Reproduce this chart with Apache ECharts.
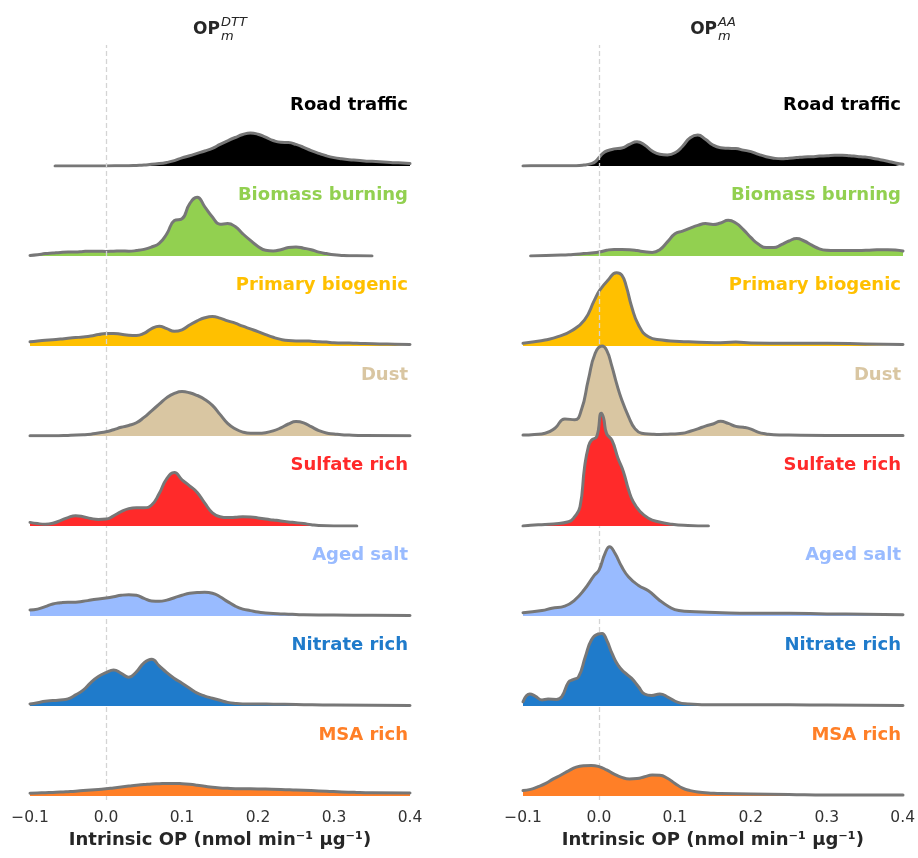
<!DOCTYPE html>
<html><head><meta charset="utf-8">
<script src="https://cdn.jsdelivr.net/npm/echarts@6/dist/echarts.min.js"></script>
<style>html,body{margin:0;padding:0;background:#fff}#c{width:918px;height:858px}</style>
</head><body><div id="c"></div>
<script>
// ---------------- DATA ----------------
const sources = ['Road traffic','Biomass burning','Primary biogenic','Dust','Sulfate rich','Aged salt','Nitrate rich','MSA rich'];
const sourceColors = ['#000000','#92d050','#ffc000','#d9c6a2','#ff2a2a','#99bbff','#1f7bcb','#ff7f27'];
const panelTitles = [{main:'OP', sup:'DTT', sub:'m'}, {main:'OP', sup:'AA', sub:'m'}];
const xTicks = [-0.1, 0.0, 0.1, 0.2, 0.3, 0.4];
const xLabel = 'Intrinsic OP (nmol min\u207b\u00b9 \u00b5g\u207b\u00b9)';

// density estimates, pairs [intrinsic OP, density]
const dttRoad = [[-0.067,0],[-0.03,0],[0.0,0.02],[0.03,0.05],[0.04,0.1],[0.05,0.15],[0.06,0.3],[0.07,0.4],[0.08,0.6],[0.09,0.9],[0.10,1.35],[0.11,1.7],[0.12,2.1],[0.13,2.5],[0.14,2.95],[0.15,3.6],[0.16,4.2],[0.17,4.75],[0.18,5.25],[0.19,5.5],[0.20,5.3],[0.21,4.8],[0.22,4.25],[0.23,3.95],[0.24,3.9],[0.25,3.6],[0.26,3.1],[0.27,2.55],[0.28,2.1],[0.29,1.7],[0.30,1.4],[0.31,1.2],[0.32,1.05],[0.33,0.95],[0.34,0.85],[0.35,0.78],[0.36,0.7],[0.37,0.63],[0.38,0.55],[0.39,0.5],[0.40,0.4]];
const dttBiomass = [[-0.1,0.1],[-0.09,0.2],[-0.08,0.4],[-0.07,0.5],[-0.06,0.6],[-0.05,0.65],[-0.04,0.65],[-0.03,0.75],[-0.02,0.8],[-0.01,0.8],[0,0.75],[0.01,0.8],[0.02,0.85],[0.03,0.8],[0.04,0.9],[0.05,1.1],[0.06,1.5],[0.07,2.1],[0.08,3.7],[0.09,5.9],[0.10,6.2],[0.11,8.7],[0.12,9.8],[0.13,8.2],[0.14,6.5],[0.15,5.3],[0.16,5.4],[0.17,4.9],[0.18,3.7],[0.19,2.6],[0.20,1.6],[0.21,0.95],[0.22,0.85],[0.23,1.05],[0.24,1.4],[0.25,1.5],[0.26,1.3],[0.27,1.05],[0.28,0.65],[0.29,0.4],[0.30,0.2],[0.31,0.1],[0.32,0.05],[0.33,0.05],[0.35,0]];
const dttPrimary = [[-0.1,0.7],[-0.09,0.85],[-0.08,0.95],[-0.07,1.05],[-0.06,1.15],[-0.05,1.3],[-0.04,1.4],[-0.03,1.5],[-0.02,1.65],[-0.01,1.9],[0,2.1],[0.01,2.1],[0.02,1.95],[0.03,1.8],[0.04,1.75],[0.05,2.1],[0.06,2.9],[0.07,3.3],[0.08,2.9],[0.09,2.45],[0.10,2.7],[0.11,3.5],[0.12,4.2],[0.13,4.7],[0.14,4.9],[0.15,4.65],[0.16,4.2],[0.17,3.8],[0.18,3.3],[0.19,2.85],[0.20,2.4],[0.21,1.9],[0.22,1.45],[0.23,1.1],[0.24,0.9],[0.25,0.85],[0.26,0.85],[0.27,0.8],[0.28,0.7],[0.29,0.65],[0.30,0.55],[0.32,0.5],[0.34,0.4],[0.36,0.35],[0.38,0.3],[0.40,0.25]];
const dttDust = [[-0.1,0.05],[-0.07,0.05],[-0.05,0.1],[-0.03,0.2],[-0.02,0.3],[-0.01,0.5],[0,0.7],[0.01,1.05],[0.02,1.45],[0.03,1.75],[0.04,2.2],[0.05,3.1],[0.06,4.2],[0.07,5.3],[0.08,6.4],[0.09,7.1],[0.10,7.4],[0.11,7.2],[0.12,6.75],[0.13,6.1],[0.14,5.1],[0.15,3.6],[0.16,2.1],[0.17,1.2],[0.18,0.65],[0.19,0.45],[0.20,0.45],[0.21,0.55],[0.22,0.85],[0.23,1.35],[0.24,2.0],[0.25,2.4],[0.26,2.2],[0.27,1.55],[0.28,0.9],[0.29,0.5],[0.30,0.35],[0.31,0.2],[0.32,0.15],[0.34,0.1],[0.40,0.05]];
const dttSulfate = [[-0.1,0.6],[-0.09,0.4],[-0.08,0.3],[-0.07,0.45],[-0.06,0.9],[-0.05,1.4],[-0.04,1.7],[-0.03,1.55],[-0.02,1.25],[-0.01,1.1],[0,1.15],[0.01,1.7],[0.02,2.4],[0.03,2.9],[0.04,3.05],[0.05,3.05],[0.06,3.5],[0.07,5.4],[0.08,7.9],[0.09,8.9],[0.10,7.7],[0.11,6.7],[0.12,5.6],[0.13,3.8],[0.14,2.2],[0.15,1.55],[0.16,1.4],[0.17,1.45],[0.18,1.55],[0.19,1.5],[0.20,1.35],[0.21,1.15],[0.22,1.0],[0.23,0.85],[0.24,0.68],[0.25,0.55],[0.26,0.4],[0.27,0.22],[0.28,0.08],[0.30,0.02],[0.33,0.02]];
const dttAged = [[-0.1,1.0],[-0.09,1.15],[-0.08,1.55],[-0.07,2.0],[-0.06,2.2],[-0.05,2.3],[-0.04,2.3],[-0.03,2.45],[-0.02,2.65],[-0.01,2.85],[0,3.0],[0.01,3.2],[0.02,3.45],[0.03,3.55],[0.04,3.45],[0.05,2.95],[0.06,2.5],[0.07,2.45],[0.08,2.65],[0.09,3.05],[0.10,3.45],[0.11,3.8],[0.12,3.9],[0.13,3.95],[0.14,3.8],[0.15,3.2],[0.16,2.4],[0.17,1.65],[0.18,1.15],[0.19,0.9],[0.20,0.65],[0.21,0.5],[0.22,0.4],[0.23,0.35],[0.24,0.3],[0.25,0.25],[0.26,0.2],[0.30,0.15],[0.35,0.12],[0.40,0.1]];
const dttNitrate = [[-0.1,0.35],[-0.09,0.55],[-0.08,0.8],[-0.07,0.9],[-0.06,1.0],[-0.05,1.2],[-0.04,1.85],[-0.03,2.65],[-0.02,3.9],[-0.01,4.9],[0,5.55],[0.01,6.0],[0.02,5.45],[0.03,4.8],[0.04,5.7],[0.05,7.2],[0.06,7.8],[0.07,6.7],[0.08,5.55],[0.09,4.6],[0.10,3.8],[0.11,2.95],[0.12,2.15],[0.13,1.65],[0.14,1.3],[0.15,0.95],[0.16,0.6],[0.17,0.42],[0.18,0.35],[0.20,0.35],[0.22,0.3],[0.25,0.25],[0.30,0.15],[0.40,0.1]];
const dttMsa = [[-0.1,0.45],[-0.09,0.5],[-0.08,0.55],[-0.07,0.6],[-0.06,0.65],[-0.05,0.72],[-0.04,0.8],[-0.03,0.9],[-0.02,1.0],[-0.01,1.1],[0,1.2],[0.01,1.35],[0.02,1.5],[0.03,1.65],[0.04,1.8],[0.05,1.9],[0.06,2.0],[0.07,2.05],[0.08,2.1],[0.09,2.1],[0.10,2.05],[0.11,1.95],[0.12,1.8],[0.13,1.62],[0.14,1.45],[0.15,1.35],[0.16,1.28],[0.17,1.22],[0.19,1.2],[0.21,1.15],[0.23,1.1],[0.25,1.0],[0.27,0.9],[0.29,0.8],[0.31,0.68],[0.33,0.6],[0.35,0.55],[0.40,0.5]];

const aaRoad = [[-0.1,0.02],[-0.09,0.05],[-0.03,0.05],[-0.02,0.15],[-0.01,0.4],[-0.005,0.7],[0,1.4],[0.005,2.1],[0.01,2.5],[0.02,2.85],[0.03,3.0],[0.04,3.6],[0.05,4.05],[0.06,3.5],[0.07,2.5],[0.08,1.95],[0.09,1.85],[0.10,2.2],[0.11,3.3],[0.12,4.7],[0.13,5.15],[0.14,4.45],[0.15,3.5],[0.16,3.05],[0.17,2.95],[0.18,2.9],[0.19,2.65],[0.20,2.4],[0.21,1.95],[0.22,1.55],[0.23,1.3],[0.24,1.2],[0.25,1.3],[0.26,1.4],[0.27,1.5],[0.28,1.55],[0.29,1.65],[0.30,1.7],[0.31,1.78],[0.32,1.8],[0.33,1.72],[0.34,1.6],[0.35,1.5],[0.36,1.3],[0.37,1.05],[0.38,0.8],[0.39,0.5],[0.40,0.3]];
const aaBiomass = [[-0.09,0.0],[-0.07,0.1],[-0.05,0.15],[-0.04,0.2],[-0.03,0.3],[-0.02,0.4],[-0.01,0.5],[0,0.65],[0.01,0.95],[0.02,1.1],[0.03,1.1],[0.04,1.05],[0.05,0.9],[0.06,0.7],[0.07,0.6],[0.08,1.05],[0.09,2.35],[0.10,3.7],[0.11,4.15],[0.12,4.65],[0.13,5.1],[0.14,5.4],[0.15,5.25],[0.16,5.5],[0.17,5.95],[0.18,5.5],[0.19,4.4],[0.20,3.05],[0.21,1.95],[0.22,1.4],[0.23,1.4],[0.24,1.9],[0.25,2.5],[0.26,2.9],[0.27,2.5],[0.28,1.8],[0.29,1.2],[0.30,0.95],[0.31,0.9],[0.34,0.9],[0.36,1.0],[0.38,1.05],[0.39,1.0],[0.40,0.85]];
const aaPrimary = [[-0.1,0.45],[-0.085,0.7],[-0.071,1.0],[-0.054,1.55],[-0.036,2.55],[-0.019,4.35],[-0.006,7.65],[0.001,9.3],[0.012,11.0],[0.023,12.2],[0.03,11.8],[0.036,9.9],[0.043,6.55],[0.052,3.5],[0.065,1.55],[0.083,1.0],[0.10,0.8],[0.118,0.7],[0.153,0.55],[0.18,0.65],[0.20,0.5],[0.25,0.45],[0.30,0.45],[0.35,0.35],[0.40,0.25]];
const aaDust = [[-0.1,0.15],[-0.085,0.25],[-0.071,0.45],[-0.058,1.3],[-0.045,2.85],[-0.032,2.7],[-0.023,4.4],[-0.014,9.4],[-0.005,13.8],[0.004,15.0],[0.01,14.3],[0.017,11.6],[0.023,8.8],[0.03,6.0],[0.039,3.2],[0.047,1.28],[0.056,0.45],[0.07,0.3],[0.08,0.25],[0.09,0.3],[0.10,0.35],[0.11,0.45],[0.12,0.8],[0.13,1.2],[0.14,1.65],[0.15,2.0],[0.16,2.45],[0.17,2.1],[0.18,1.6],[0.19,1.45],[0.20,1.15],[0.21,0.6],[0.22,0.35],[0.23,0.2],[0.25,0.15],[0.30,0.1],[0.40,0.1]];
const aaSulfate = [[-0.1,0.0],[-0.08,0.2],[-0.06,0.35],[-0.04,0.7],[-0.032,1.55],[-0.025,3.2],[-0.019,9.8],[-0.014,13.2],[-0.01,14.3],[-0.003,14.9],[0.003,18.8],[0.006,18.0],[0.01,15.4],[0.017,14.3],[0.025,11.3],[0.032,9.1],[0.039,6.0],[0.045,4.05],[0.054,2.4],[0.065,1.3],[0.078,0.7],[0.096,0.3],[0.117,0.1],[0.144,0.0]];
const aaAged = [[-0.1,0.55],[-0.075,0.9],[-0.062,1.3],[-0.045,1.65],[-0.032,2.65],[-0.019,4.45],[-0.006,6.8],[0,7.65],[0.008,10.45],[0.014,11.55],[0.021,10.45],[0.03,8.2],[0.039,6.5],[0.052,5.1],[0.065,4.2],[0.078,2.8],[0.092,1.55],[0.105,0.9],[0.127,0.7],[0.153,0.6],[0.20,0.45],[0.25,0.45],[0.30,0.35],[0.35,0.3],[0.40,0.2]];
const aaNitrate = [[-0.1,0.7],[-0.091,2.0],[-0.084,1.65],[-0.075,1.0],[-0.067,1.15],[-0.056,1.1],[-0.049,1.55],[-0.04,4.0],[-0.034,4.4],[-0.027,4.85],[-0.018,8.2],[-0.01,11.0],[-0.001,12.0],[0.004,12.1],[0.01,11.0],[0.017,8.8],[0.025,6.8],[0.034,5.55],[0.043,4.6],[0.052,3.2],[0.06,2.0],[0.069,1.75],[0.08,2.0],[0.091,1.45],[0.104,0.6],[0.117,0.35],[0.153,0.2],[0.25,0.2],[0.30,0.15],[0.40,0.1]];
const aaMsa = [[-0.1,0.9],[-0.09,1.1],[-0.08,1.55],[-0.07,2.1],[-0.06,2.85],[-0.05,3.5],[-0.04,4.2],[-0.03,4.8],[-0.02,5.05],[-0.01,5.1],[0,4.9],[0.01,4.35],[0.02,3.65],[0.03,3.1],[0.04,2.85],[0.05,2.9],[0.06,3.2],[0.07,3.5],[0.08,3.45],[0.09,2.95],[0.10,2.1],[0.11,1.3],[0.12,0.9],[0.13,0.65],[0.14,0.55],[0.15,0.45],[0.16,0.4],[0.20,0.35],[0.25,0.25],[0.30,0.15],[0.40,0.15]];

const dttSeries = [dttRoad, dttBiomass, dttPrimary, dttDust, dttSulfate, dttAged, dttNitrate, dttMsa];
const aaSeries = [aaRoad, aaBiomass, aaPrimary, aaDust, aaSulfate, aaAged, aaNitrate, aaMsa];

// ---------------- LAYOUT ----------------
const FONT = '"DejaVu Sans", sans-serif';
const panels = [
  {left: 30, right: 410, rows: dttSeries, title: panelTitles[0]},
  {left: 523, right: 903, rows: aaSeries, title: panelTitles[1]}
];
const firstBase = 166, rowGap = 90, rowH = 150, yMax = 25;
const axisY = 800, overlayTop = 45;

const grid = [], xAxis = [], yAxis = [], series = [], graphic = [];
const mctx = document.createElement('canvas').getContext('2d');
function textW(txt, font) { mctx.font = font; return mctx.measureText(txt).width; }

panels.forEach((p, pi) => {
  const w = p.right - p.left;
  p.rows.forEach((data, i) => {
    const base = firstBase + rowGap * i;
    const gi = grid.length;
    grid.push({left: p.left, width: w, top: base - rowH, height: rowH});
    xAxis.push({type: 'value', gridIndex: gi, min: -0.1, max: 0.4, show: false});
    yAxis.push({type: 'value', gridIndex: gi, min: 0, max: yMax, show: false});
    series.push({
      type: 'line', xAxisIndex: gi, yAxisIndex: gi, data: data,
      smooth: 0.5, symbol: 'none', silent: true,
      z: 2 + i,
      lineStyle: {color: '#777777', width: 3, cap: 'round', join: 'round'},
      areaStyle: {color: sourceColors[i], opacity: 1},
      animation: false
    });
    graphic.push({
      type: 'text', x: p.right - 2, y: base - 61, silent: true, z: 50,
      style: {text: sources[i], fill: sourceColors[i], fontSize: 18, fontWeight: 'bold',
              fontFamily: FONT, align: 'right', verticalAlign: 'middle'}
    });
  });
  // overlay grid for bottom axis and zero line
  const gi = grid.length;
  grid.push({left: p.left, width: w, top: overlayTop, bottom: 858 - axisY});
  xAxis.push({
    type: 'value', gridIndex: gi, min: xTicks[0], max: xTicks[xTicks.length - 1], interval: 0.1,
    axisLine: {show: false}, axisTick: {show: false}, splitLine: {show: false},
    axisLabel: {fontSize: 15.5, color: '#333', fontFamily: FONT, margin: 10,
      formatter: v => (v < -1e-9 ? '\u2212' : '') + Math.abs(v).toFixed(1)},
    name: xLabel, nameLocation: 'middle', nameGap: 26,
    nameTextStyle: {fontSize: 18, fontWeight: 'bold', color: '#262626', fontFamily: FONT}
  });
  yAxis.push({type: 'value', gridIndex: gi, min: 0, max: 1, show: false});
  series.push({
    type: 'line', xAxisIndex: gi, yAxisIndex: gi, data: [], silent: true, z: 40,
    markLine: {silent: true, symbol: 'none', animation: false, label: {show: false},
      lineStyle: {type: [5, 3], color: '#d4d4d4', width: 1.3},
      data: [{xAxis: 0}]}
  });
  // title OP with super/subscript
  const cx = (p.left + p.right) / 2;
  const mainFont = 'bold 17px ' + FONT, smallFont = 'italic 13px ' + FONT;
  const wMain = textW(p.title.main, mainFont);
  const wSmall = Math.max(textW(p.title.sup, smallFont), textW(p.title.sub, smallFont));
  const x0 = cx - (wMain + wSmall + 1) / 2;
  graphic.push({type: 'text', x: x0, y: 29.5, silent: true,
    style: {text: p.title.main, fill: '#262626', fontSize: 17, fontWeight: 'bold', fontFamily: FONT, align: 'left', verticalAlign: 'middle'}});
  graphic.push({type: 'text', x: x0 + wMain + 1, y: 23, silent: true,
    style: {text: p.title.sup, fill: '#262626', fontSize: 13, fontStyle: 'italic', fontFamily: FONT, align: 'left', verticalAlign: 'middle'}});
  graphic.push({type: 'text', x: x0 + wMain + 1, y: 36.5, silent: true,
    style: {text: p.title.sub, fill: '#262626', fontSize: 13, fontStyle: 'italic', fontFamily: FONT, align: 'left', verticalAlign: 'middle'}});
});

const chart = echarts.init(document.getElementById('c'), null, {renderer: 'canvas'});
chart.setOption({
  backgroundColor: '#ffffff',
  animation: false,
  textStyle: {fontFamily: FONT},
  grid, xAxis, yAxis, series, graphic
});
</script></body></html>
